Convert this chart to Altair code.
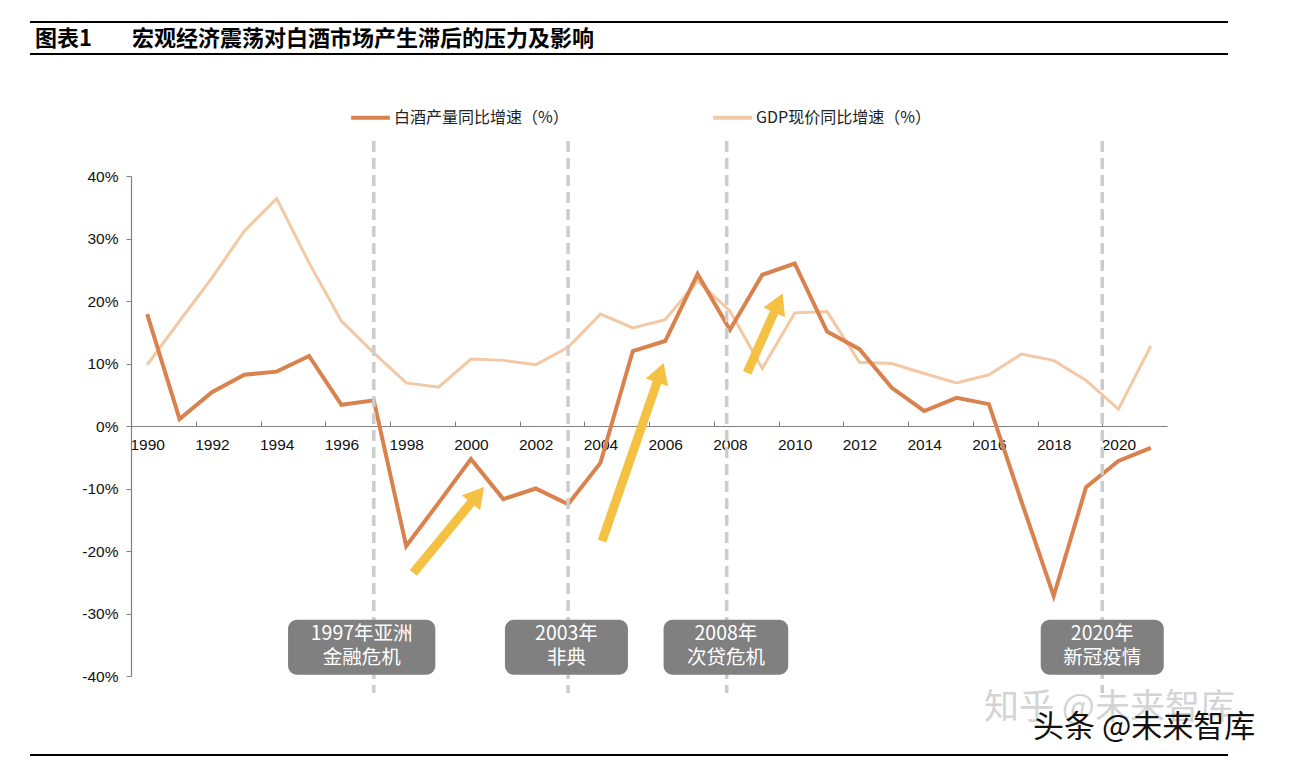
import math
import altair as alt
import pandas as pd

# ---------------- data ----------------
years = list(range(1990, 2022))
baijiu = [17.9, 1.1, 5.4, 8.2, 8.7, 11.2, 3.4, 4.1, -19.2, -12.3, -5.3, -11.7, -10.0, -12.5, -5.9,
          12.0, 13.6, 24.3, 15.4, 24.2, 26.0, 15.1, 12.3, 6.1, 2.4, 4.5, 3.5, -12.0, -27.2, -9.8, -5.6, -3.5]
gdp = [9.8, 16.8, 23.7, 31.2, 36.4, 26.1, 16.8, 11.7, 6.9, 6.2, 10.7, 10.5, 9.8, 12.6, 17.9, 15.7,
       17.0, 23.2, 18.4, 9.2, 18.1, 18.3, 10.2, 10.0, 8.4, 6.9, 8.2, 11.5, 10.5, 7.3, 2.7, 12.8]
series_names = ["白酒产量同比增速（%）", "GDP现价同比增速（%）"]
series_colors = ["#D9824E", "#F3C8A4"]

x_ticks = list(range(1990, 2021, 2))
y_ticks = list(range(-40, 41, 10))

# event markers (dashed lines) and annotation boxes
event_line_x = [1997, 2003, 2007.9, 2019.5]
event_box_x0 = [1994.35, 2001.05, 2005.95, 2017.6]
event_box_x1 = [1998.9, 2004.85, 2009.8, 2021.4]
event_labels = ["1997年亚洲\n金融危机", "2003年\n非典", "2008年\n次贷危机", "2020年\n新冠疫情"]

# yellow arrows (tail -> tip), in year / percent units
arrow_tail_x = [1998.22, 2004.05, 2008.53]
arrow_tail_y = [-23.5, -18.4, 8.5]
arrow_tip_x = [2000.38, 2005.94, 2009.61]
arrow_tip_y = [-9.9, 9.9, 21.0]

title_tag = "图表1"
title_text = "宏观经济震荡对白酒市场产生滞后的压力及影响"
watermark1 = "知乎 @未来智库"
watermark2 = "头条 @未来智库"

# ---------------- layout ----------------
W, H = 1036, 500
PAD_L, PAD_T, PAD_R, PAD_B = 123, 168, 120, 81
ppy = W / 32.0          # pixels per year
ppp = H / 80.0          # pixels per percent point
CJK = "Noto Sans CJK SC"
NUM = "Liberation Sans"

xscale = alt.Scale(domain=[1989.5, 2021.5], nice=False, zero=False)
yscale = alt.Scale(domain=[-40, 40], nice=False, zero=False)

x_axis = alt.Axis(
    orient="top", offset=-H / 2, values=x_ticks, format="d", title=None, grid=False,
    tickOffset=-ppy / 2, labelOffset=ppy / 2, tickSize=5, labelPadding=-23,
    labelBaseline="middle", labelFlush=False, labelOverlap=False,
    labelFont=NUM, labelFontSize=15.5, labelColor="#111111",
    domainColor="#808080", tickColor="#808080", domainWidth=1.2,
)
y_axis = alt.Axis(
    values=y_ticks, labelExpr="datum.value + '%'", title=None, grid=False,
    tickSize=5, labelPadding=8, labelFont=NUM, labelFontSize=15.5, labelColor="#111111",
    domainColor="#808080", tickColor="#808080", domainWidth=1.2,
)

df = pd.DataFrame({
    "year": years * 2,
    "value": baijiu + gdp,
    "series": [series_names[0]] * len(years) + [series_names[1]] * len(years),
})

color_enc = alt.Color(
    "series:N",
    scale=alt.Scale(domain=series_names, range=series_colors),
    legend=alt.Legend(
        title=None, orient="none", direction="horizontal", legendX=218, legendY=-80,
        symbolType="stroke", symbolSize=1500, symbolStrokeWidth=4, columnPadding=136,
        labelFont=CJK, labelFontSize=16, labelColor="#222222", labelOffset=2, padding=0,
        labelLimit=400,
    ),
)

base = alt.Chart(df)
gdp_line = base.transform_filter(alt.datum.series == series_names[1]).mark_line(
    strokeWidth=3, strokeJoin="miter"
).encode(
    x=alt.X("year:Q", scale=xscale, axis=x_axis),
    y=alt.Y("value:Q", scale=yscale, axis=y_axis),
    color=color_enc,
)
bj_line = base.transform_filter(alt.datum.series == series_names[0]).mark_line(
    strokeWidth=4, strokeJoin="miter"
).encode(
    x=alt.X("year:Q", scale=xscale, axis=x_axis),
    y=alt.Y("value:Q", scale=yscale, axis=y_axis),
    color=color_enc,
)

# dashed event lines
rules_df = pd.DataFrame({"x": event_line_x})
rules = alt.Chart(rules_df).mark_rule(color="#CCCCCC", strokeWidth=3.5, strokeDash=[11, 6]).encode(
    x=alt.X("x:Q", scale=xscale, axis=x_axis),
    y=alt.datum(45.6, scale=yscale, axis=y_axis),
    y2=alt.datum(-42.7),
)

# arrows
shaft_rows, head_rows = [], []
for i in range(len(arrow_tail_x)):
    tx, ty, hx, hy = arrow_tail_x[i], arrow_tail_y[i], arrow_tip_x[i], arrow_tip_y[i]
    dxp, dyp = (hx - tx) * ppy, (hy - ty) * ppp
    L = math.hypot(dxp, dyp)
    ux, uy = dxp / L, dyp / L
    ang = math.degrees(math.atan2(dxp, dyp)) % 360
    shaft_rows.append({"id": i, "o": 0, "x": tx, "y": ty})
    shaft_rows.append({"id": i, "o": 1, "x": hx - 14 * ux / ppy, "y": hy - 14 * uy / ppp})
    head_rows.append({"id": i, "x": hx - 9 * ux / ppy, "y": hy - 9 * uy / ppp, "angle": ang})
ARROW = "#F4C143"
shafts = alt.Chart(pd.DataFrame(shaft_rows)).mark_line(color=ARROW, strokeWidth=9, strokeCap="butt").encode(
    x=alt.X("x:Q", scale=xscale, axis=x_axis),
    y=alt.Y("y:Q", scale=yscale, axis=y_axis),
    detail="id:N",
    order="o:Q",
)
heads = alt.Chart(pd.DataFrame(head_rows)).mark_point(
    shape="triangle-up", filled=True, size=560, color=ARROW, opacity=1, strokeWidth=0
).encode(
    x=alt.X("x:Q", scale=xscale, axis=x_axis),
    y=alt.Y("y:Q", scale=yscale, axis=y_axis),
    angle=alt.Angle("angle:Q", scale=None),
)

# annotation boxes
box_df = pd.DataFrame({"x0": event_box_x0, "x1": event_box_x1, "label": event_labels})
box_df["xc"] = (box_df["x0"] + box_df["x1"]) / 2
boxes = alt.Chart(box_df).mark_rect(color="#808080", cornerRadius=9).encode(
    x=alt.X("x0:Q", scale=xscale, axis=x_axis),
    x2="x1:Q",
    y=alt.datum(-31.0, scale=yscale, axis=y_axis),
    y2=alt.datum(-39.8),
)
box_text = alt.Chart(box_df).mark_text(
    color="white", font=CJK, fontSize=19.5, lineBreak="\n", lineHeight=24,
    align="center", baseline="middle",
).encode(
    x=alt.X("xc:Q", scale=xscale, axis=x_axis),
    y=alt.datum(-33.3, scale=yscale, axis=y_axis),
    text="label:N",
)

# decorations: title block, rules, watermarks
one = pd.DataFrame({"k": [0]})
deco_rule_kw = dict(color="#000000", strokeWidth=2)
top_rule = alt.Chart(one).mark_rule(**deco_rule_kw).encode(
    x=alt.value(-101), x2=alt.value(1097), y=alt.value(-154))
mid_rule = alt.Chart(one).mark_rule(**deco_rule_kw).encode(
    x=alt.value(-101), x2=alt.value(1097), y=alt.value(-122))
bot_rule = alt.Chart(one).mark_rule(**deco_rule_kw).encode(
    x=alt.value(-101), x2=alt.value(1097), y=alt.value(579))
t1 = alt.Chart(one).mark_text(text=title_tag, font=CJK, fontSize=22, fontWeight="bold",
                              align="left", baseline="middle", color="#000000").encode(
    x=alt.value(-96), y=alt.value(-137))
t2 = alt.Chart(one).mark_text(text=title_text, font=CJK, fontSize=22, fontWeight="bold",
                              align="left", baseline="middle", color="#000000").encode(
    x=alt.value(1), y=alt.value(-137))
wm1 = alt.Chart(one).mark_text(text=watermark1, font=CJK, fontSize=35, align="left",
                               baseline="middle", color="#D4D4D4").encode(
    x=alt.value(853), y=alt.value(532))
wm2 = alt.Chart(one).mark_text(text=watermark2, font=CJK, fontSize=31, align="left",
                               baseline="middle", color="#111111").encode(
    x=alt.value(902), y=alt.value(552))

chart = alt.layer(
    gdp_line, bj_line, rules, shafts, heads, boxes, box_text,
    top_rule, mid_rule, bot_rule, t1, t2, wm1, wm2,
).properties(
    width=W, height=H, background="white",
    autosize=alt.AutoSizeParams(type="none"),
    padding={"left": PAD_L, "top": PAD_T, "right": PAD_R, "bottom": PAD_B},
).configure_view(stroke=None)

chart.save("out.html", embed_options={"renderer": "svg", "actions": False})
